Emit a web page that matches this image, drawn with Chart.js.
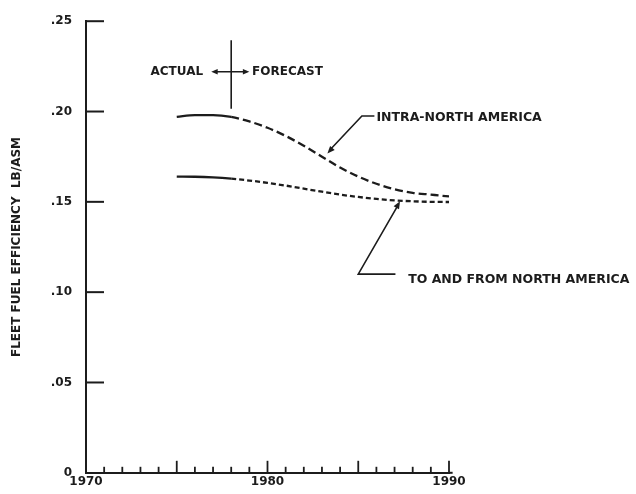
<!DOCTYPE html>
<html>
<head>
<meta charset="utf-8">
<script src="https://cdn.jsdelivr.net/npm/chart.js@4/dist/chart.umd.min.js"></script>
<style>
  html, body { margin: 0; padding: 0; background: #ffffff; }
  #wrap { width: 636px; height: 494px; position: relative; }
</style>
</head>
<body>
<div id="wrap"><canvas id="c" width="636" height="494"></canvas></div>
<script>
// Years on the horizontal axis
const years = [1975, 1976, 1977, 1978, 1979, 1980, 1981, 1982, 1983, 1984, 1985, 1986, 1987, 1988, 1989, 1990];
// Fleet fuel efficiency, lb per available seat mile
const intraNorthAmerica = [0.197, 0.198, 0.198, 0.197, 0.1945, 0.191, 0.1865, 0.181, 0.175, 0.169, 0.164, 0.160, 0.157, 0.155, 0.154, 0.153];
const toFromNorthAmerica = [0.164, 0.1639, 0.1635, 0.1628, 0.1618, 0.1605, 0.159, 0.1573, 0.1556, 0.154, 0.1527, 0.1516, 0.1508, 0.1503, 0.150, 0.1499];
// Last year of actual data; later years are forecast
const lastActualYear = 1978;
// Axis tick values
const yTicks = [0, 0.05, 0.10, 0.15, 0.20, 0.25];
const xLabelYears = [1970, 1980, 1990];

const INK = '#1c1c1c';
const FONT = '"DejaVu Sans", sans-serif';

function toPoints(vals) {
  return years.map((yr, i) => ({ x: yr, y: vals[i] }));
}

function fmtY(v) {
  const r = Math.round(v * 100);
  if (r === 0) return '0';
  return '.' + String(r).padStart(2, '0');
}

function arrowHead(ctx, x1, y1, x2, y2, size) {
  const a = Math.atan2(y2 - y1, x2 - x1);
  ctx.beginPath();
  ctx.moveTo(x2, y2);
  ctx.lineTo(x2 - size * Math.cos(a - 0.4), y2 - size * Math.sin(a - 0.4));
  ctx.lineTo(x2 - size * Math.cos(a + 0.4), y2 - size * Math.sin(a + 0.4));
  ctx.closePath();
  ctx.fill();
}

// Inside tick marks and callouts, positioned through the chart scales
const decorations = {
  id: 'decorations',
  afterDraw(chart) {
    const { ctx, scales } = chart;
    const xs = scales.x, ys = scales.y;
    const left = xs.getPixelForValue(1970);
    const bottom = ys.getPixelForValue(0);
    ctx.save();
    ctx.strokeStyle = INK;
    ctx.fillStyle = INK;
    ctx.lineWidth = 2;
    ctx.lineCap = 'butt';

    // extend the year axis a little past 1990
    ctx.beginPath();
    ctx.moveTo(xs.getPixelForValue(1990), bottom);
    ctx.lineTo(xs.getPixelForValue(1990.2), bottom);
    ctx.stroke();

    // value-axis ticks pointing into the plot
    yTicks.forEach(v => {
      if (v === 0) return;
      const py = ys.getPixelForValue(v);
      ctx.beginPath();
      ctx.moveTo(left, py);
      ctx.lineTo(left + 18, py);
      ctx.stroke();
    });

    // year ticks: short each year, longer every five years
    ctx.lineWidth = 1.8;
    for (let yr = 1971; yr <= 1990; yr++) {
      const px = xs.getPixelForValue(yr);
      const h = (yr % 5 === 0) ? 12 : 6;
      ctx.beginPath();
      ctx.moveTo(px, bottom);
      ctx.lineTo(px, bottom - h);
      ctx.stroke();
    }

    // actual / forecast divider
    const dx = xs.getPixelForValue(lastActualYear);
    ctx.lineWidth = 1.6;
    ctx.beginPath();
    ctx.moveTo(dx, ys.getPixelForValue(0.2395));
    ctx.lineTo(dx, ys.getPixelForValue(0.2015));
    ctx.stroke();
    const ay = ys.getPixelForValue(0.222);
    const axL = xs.getPixelForValue(1976.9), axR = xs.getPixelForValue(1979.0);
    ctx.lineWidth = 1.4;
    ctx.beginPath();
    ctx.moveTo(axL + 3, ay);
    ctx.lineTo(axR - 3, ay);
    ctx.stroke();
    arrowHead(ctx, axR, ay, axL, ay, 7);
    arrowHead(ctx, axL, ay, axR, ay, 7);

    ctx.font = 'bold 12px ' + FONT;
    ctx.textBaseline = 'middle';
    ctx.textAlign = 'right';
    ctx.fillText('ACTUAL', xs.getPixelForValue(1976.45), ay);
    ctx.textAlign = 'left';
    ctx.fillText('FORECAST', xs.getPixelForValue(1979.15), ay);

    // callout: intra-North America
    ctx.font = 'bold 12.5px ' + FONT;
    ctx.lineWidth = 1.6;
    const i1x = xs.getPixelForValue(1986.0), i1y = ys.getPixelForValue(0.1975);
    const ikx = xs.getPixelForValue(1985.2), iky = ys.getPixelForValue(0.1975);
    const itx = xs.getPixelForValue(1983.3), ity = ys.getPixelForValue(0.1768);
    ctx.beginPath();
    ctx.moveTo(i1x - 2, i1y);
    ctx.lineTo(ikx, iky);
    ctx.lineTo(itx + 2, ity - 3);
    ctx.stroke();
    arrowHead(ctx, ikx, iky, itx, ity, 8);
    ctx.fillText('INTRA-NORTH AMERICA', i1x, ys.getPixelForValue(0.1966));

    // callout: to and from North America
    const t1x = xs.getPixelForValue(1987.6), t1y = ys.getPixelForValue(0.110);
    const tkx = xs.getPixelForValue(1985.0), tky = ys.getPixelForValue(0.110);
    const ttx = xs.getPixelForValue(1987.3), tty = ys.getPixelForValue(0.1503);
    ctx.beginPath();
    ctx.moveTo(t1x - 10, t1y);
    ctx.lineTo(tkx, tky);
    ctx.lineTo(ttx - 1.5, tty + 3);
    ctx.stroke();
    arrowHead(ctx, tkx, tky, ttx, tty, 8);
    ctx.fillText('TO AND FROM NORTH AMERICA', xs.getPixelForValue(1987.75), ys.getPixelForValue(0.1068));

    ctx.restore();
  }
};

const forecastDash = (dash) => (c) => (c.p0.parsed.x >= lastActualYear ? dash : undefined);

new Chart(document.getElementById('c'), {
  type: 'line',
  data: {
    datasets: [
      {
        label: 'INTRA-NORTH AMERICA',
        data: toPoints(intraNorthAmerica),
        borderColor: INK,
        borderWidth: 2.3,
        pointRadius: 0,
        cubicInterpolationMode: 'monotone',
        segment: { borderDash: forecastDash([8, 4]) }
      },
      {
        label: 'TO AND FROM NORTH AMERICA',
        data: toPoints(toFromNorthAmerica),
        borderColor: INK,
        borderWidth: 2.3,
        pointRadius: 0,
        cubicInterpolationMode: 'monotone',
        segment: { borderDash: forecastDash([5, 3]) }
      }
    ]
  },
  options: {
    responsive: false,
    animation: false,
    layout: { padding: { left: 0, right: 187, top: 18, bottom: 0 } },
    plugins: { legend: { display: false }, tooltip: { enabled: false } },
    scales: {
      x: {
        type: 'linear',
        min: 1970,
        max: 1990,
        afterFit(scale) { scale.height = 21; },
        afterBuildTicks(scale) { scale.ticks = xLabelYears.map(v => ({ value: v })); },
        grid: { display: false, drawTicks: false },
        border: { display: true, color: INK, width: 2 },
        ticks: {
          padding: 2,
          color: INK,
          maxRotation: 0,
          font: { family: FONT, size: 12, weight: 'bold' },
          callback: v => String(v)
        }
      },
      y: {
        type: 'linear',
        min: 0,
        max: 0.25,
        afterFit(scale) { scale.width = 86; },
        afterBuildTicks(scale) { scale.ticks = yTicks.map(v => ({ value: v })); },
        grid: { display: false, drawTicks: false },
        border: { display: true, color: INK, width: 2 },
        ticks: {
          padding: 14,
          color: INK,
          font: { family: FONT, size: 12, weight: 'bold' },
          callback: v => fmtY(v)
        },
        title: {
          display: true,
          text: 'FLEET FUEL EFFICIENCY  LB/ASM',
          color: INK,
          padding: { top: 10, bottom: 0 },
          font: { family: FONT, size: 12, weight: 'bold' }
        }
      }
    }
  },
  plugins: [decorations]
});
</script>
</body>
</html>
